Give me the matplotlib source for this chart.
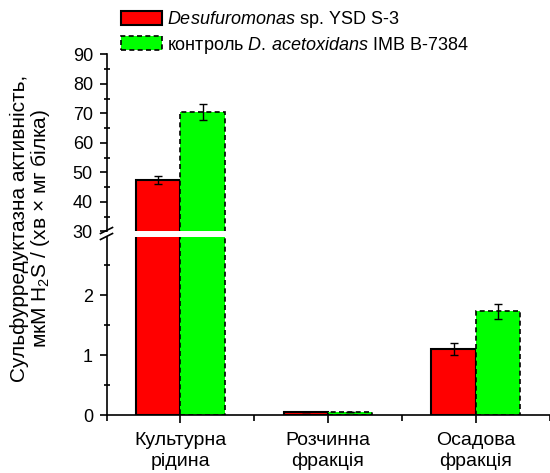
import matplotlib
matplotlib.use("Agg")
import matplotlib.pyplot as plt
import numpy as np
from matplotlib.lines import Line2D
from matplotlib.patches import Patch

plt.rcParams['font.family'] = ['Liberation Sans', 'DejaVu Sans']
plt.rcParams['mathtext.fontset'] = 'custom'
plt.rcParams['mathtext.rm'] = 'Liberation Sans'
plt.rcParams['mathtext.it'] = 'Liberation Sans:italic'

categories = ["Культурна\nрідина", "Розчинна\nфракція", "Осадова\nфракція"]
series_names = [r"$\it{Desufuromonas}$ sp. YSD S-3",
                r"контроль $\mathit{D.\,acetoxidans}$ IMB B-7384"]
desulf_vals = [47.5, 0.05, 1.10]
desulf_err = [1.3, 0.0, 0.10]
control_vals = [70.4, 0.05, 1.73]
control_err = [2.7, 0.0, 0.12]
upper_ticks = [30, 40, 50, 60, 70, 80, 90]
lower_ticks = [0, 1, 2]

W, H = 550, 473
fig = plt.figure(figsize=(W / 100, H / 100), dpi=100)

left = 106.5 / W
right = 549.6 / W
ax_lo = fig.add_axes([left, 1 - 415 / H, right - left, (415 - 236.7) / H])
ax_hi = fig.add_axes([left, 1 - 231.5 / H, right - left, (231.5 - 54.3) / H])

x = np.arange(len(categories))
bw = 0.30
for ax in (ax_lo, ax_hi):
    ax.bar(x - bw / 2, desulf_vals, bw, color='#ff0000', edgecolor='black',
           linewidth=1.5, zorder=2)
    ax.bar(x + bw / 2, control_vals, bw, color='#00ff00', edgecolor='black',
           linewidth=1.2, linestyle=(0, (3, 2)), zorder=2)
    ax.errorbar(x - bw / 2, desulf_vals, yerr=desulf_err, fmt='none',
                ecolor='black', elinewidth=1, capsize=2.6, capthick=1, zorder=3)
    ax.errorbar(x + bw / 2, control_vals, yerr=control_err, fmt='none',
                ecolor='black', elinewidth=1, capsize=2.6, capthick=1, zorder=3)
    ax.set_xlim(-0.5, 2.5)
    for s in ('top', 'right'):
        ax.spines[s].set_visible(False)
    ax.spines['left'].set_linewidth(1.2)
    ax.spines['bottom'].set_linewidth(1.2)
    ax.tick_params(axis='y', which='major', direction='out', length=5.3, width=1.2,
                   labelsize=13, pad=4.5)
    ax.tick_params(axis='y', which='minor', direction='inout', length=5, width=1.2)

ax_hi.set_ylim(30, 90)
ax_hi.set_yticks(upper_ticks)
ax_hi.set_yticks(np.arange(35, 90, 10), minor=True)
ax_hi.spines['bottom'].set_visible(False)
ax_hi.set_xticks([])

ax_lo.set_ylim(0, 2.98)
ax_lo.set_yticks(lower_ticks)
ax_lo.set_yticks([0.5, 1.5, 2.5], minor=True)
ax_lo.set_xticks(x)
ax_lo.set_xticklabels(categories, fontsize=14, linespacing=1.3)
ax_lo.set_xticks([-0.5, 0.5, 1.5, 2.5], minor=True)
ax_lo.tick_params(axis='x', which='major', direction='out', length=6, width=1.2, pad=6)
ax_lo.tick_params(axis='x', which='minor', direction='out', length=4, width=1.2)

# break marks on the left spine
for yb in (230.5, 236.5):
    fig.add_artist(Line2D([(left * W - 6) / W, (left * W + 6) / W],
                          [1 - (yb + 3) / H, 1 - (yb - 3) / H],
                          color='black', linewidth=1.2))

fig.text(31 / W, 1 - 228 / H,
         "Сульфурредуктазна активність,\nмкМ H$_2$S / (хв × мг білка)",
         rotation=90, ha='center', va='center', fontsize=15,
         multialignment='center', linespacing=0.98)

handles = [Patch(facecolor='#ff0000', edgecolor='black', linewidth=1.5),
           Patch(facecolor='#00ff00', edgecolor='black', linewidth=1.2,
                 linestyle=(0, (3, 2)))]
fig.legend(handles, series_names, loc='upper left',
           bbox_to_anchor=(121 / W, 1 - 9 / H), frameon=False, fontsize=13,
           borderpad=0, borderaxespad=0, handlelength=2.25, handleheight=0.8,
           handletextpad=0.3, labelspacing=0.25)

fig.savefig("out.png", dpi=100)
